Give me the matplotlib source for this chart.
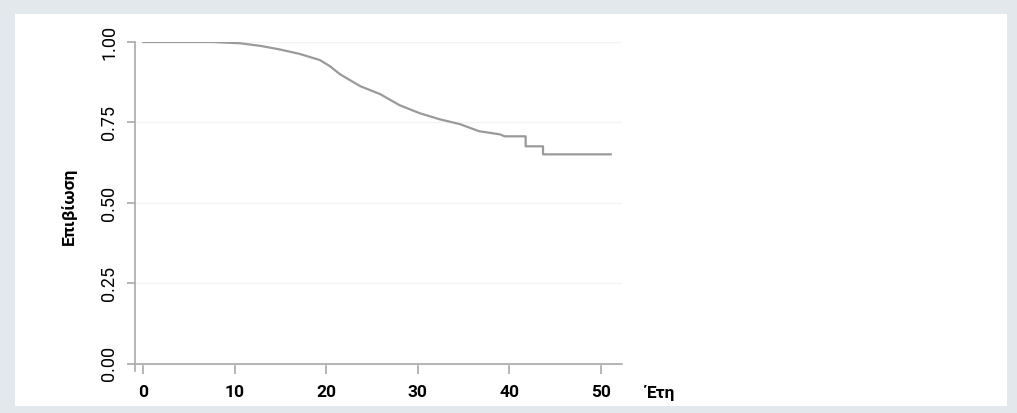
import matplotlib.pyplot as plt
from matplotlib.patches import Rectangle

# Survival curve vertices, last two drops are clear steps
years = [0, 7.6, 10.6, 12.8, 14.9, 17.1, 19.3, 20.4, 21.5, 23.7, 25.9, 28.0,
         30.2, 32.4, 34.6, 36.7, 39.0, 39.5, 41.8, 41.8, 43.7, 43.7, 51.1]
surv = [1.0, 1.0, 0.996, 0.988, 0.977, 0.963, 0.944, 0.925, 0.900, 0.863,
        0.838, 0.804, 0.779, 0.760, 0.745, 0.723, 0.713, 0.707, 0.707,
        0.676, 0.676, 0.651, 0.651]
xticks = [0, 10, 20, 30, 40, 50]
yticks = [0.0, 0.25, 0.5, 0.75, 1.0]
ytick_labels = ["0.00", "0.25", "0.50", "0.75", "1.00"]

plt.rcParams['font.family'] = ['Roboto', 'DejaVu Sans']

grey = "#a9a9a9"
fig = plt.figure(figsize=(10.17, 4.13), dpi=100)
fig.patch.set_facecolor("#e3e8ed")
fig.patches.append(Rectangle((15 / 1017, 7 / 413), 992 / 1017, 392 / 413,
                             transform=fig.transFigure, facecolor="white",
                             edgecolor="none", zorder=-10))

ax = fig.add_axes([135 / 1017, 42 / 413, 486.7 / 1017, 329 / 413])
ax.set_facecolor("none")
ax.plot(years, surv, color="#9a9a9a", lw=1.6)

ax.set_xlim(-0.9, 52.3)
ax.set_ylim(-0.022, 1.0)
ax.spines["top"].set_visible(False)
ax.spines["right"].set_visible(False)
ax.spines["bottom"].set_position(("data", 0))
for s in ["left", "bottom"]:
    ax.spines[s].set_color(grey)
    ax.spines[s].set_linewidth(1.2)

ax.set_xticks(xticks)
ax.set_yticks(yticks)
ax.set_yticklabels(ytick_labels)
ax.tick_params(axis="x", length=7, width=1.2, color=grey, pad=8,
               labelsize=12.5)
ax.tick_params(axis="y", length=6, width=1.2, color=grey, pad=6,
               labelsize=13, labelrotation=90)
for lab in ax.get_xticklabels():
    lab.set_fontweight("bold")
for lab in ax.get_yticklabels():
    lab.set_va("center")

ax.grid(axis="y", color="#f4f4f4", lw=1)
ax.set_axisbelow(True)

ax.set_ylabel("Επιβίωση", fontsize=12.5, fontweight="bold")
ax.yaxis.set_label_coords(-0.119, 0.5)
ax.set_xlabel("Έτη", fontsize=12.5, fontweight="bold", ha="left", va="center")
ax.xaxis.set_label_coords(1.048, -0.067)

fig.savefig("out.png", dpi=100, facecolor=fig.get_facecolor())
